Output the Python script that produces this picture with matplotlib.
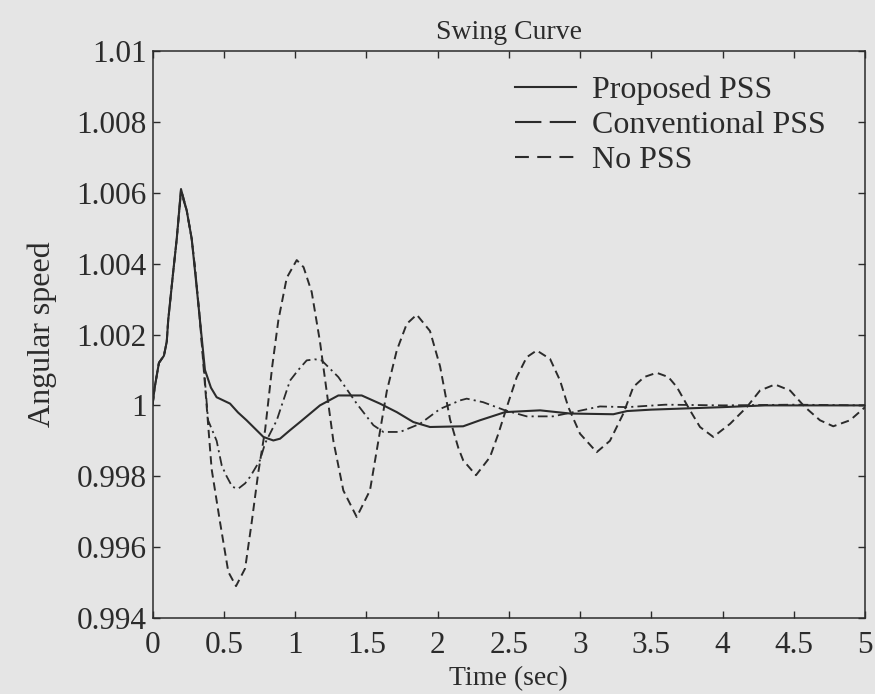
import matplotlib.pyplot as plt
from matplotlib.lines import Line2D

plt.rcParams["font.family"] = ["Liberation Serif", "DejaVu Serif"]
plt.rcParams["lines.scale_dashes"] = False

# Proposed PSS (solid)
t_prop = [0, 0.015, 0.045, 0.08, 0.1, 0.11, 0.146, 0.17, 0.2, 0.24, 0.275, 0.298,
          0.333, 0.368, 0.41, 0.45, 0.544, 0.6, 0.66, 0.778, 0.848, 0.895, 0.965,
          1.035, 1.175, 1.304, 1.468, 1.596, 1.714, 1.83, 1.947, 2.18, 2.298, 2.474,
          2.72, 2.93, 3.234, 3.33, 3.5, 4.0, 4.3, 5.0]
w_prop = [1.0, 1.0005, 1.0012, 1.0014, 1.0018, 1.0024, 1.0038, 1.0047, 1.0061, 1.0055,
          1.0047, 1.0038, 1.0024, 1.0010, 1.0005, 1.00023, 1.00005, 0.9998, 0.99958,
          0.99911, 0.99901, 0.99906, 0.9993, 0.99953, 1.0, 1.00028, 1.00028, 1.00005,
          0.99981, 0.99953, 0.99939, 0.99941, 0.99958, 0.99981, 0.99986, 0.99977,
          0.99975, 0.99984, 0.99988, 0.99995, 1.0, 1.0]

# Conventional PSS (dash-dot)
t_conv = [0, 0.015, 0.045, 0.08, 0.1, 0.11, 0.146, 0.17, 0.2, 0.24, 0.275, 0.3,
          0.333, 0.36, 0.39, 0.45, 0.486, 0.52, 0.56, 0.602, 0.65, 0.684, 0.754, 0.79,
          0.872, 0.895, 0.965, 1.023, 1.082, 1.14, 1.187, 1.304, 1.433, 1.55, 1.62,
          1.737, 1.877, 2.018, 2.158, 2.205, 2.32, 2.474, 2.626, 2.81, 2.93, 3.14,
          3.33, 3.6, 4.0, 4.5, 5.0]
w_conv = [1.0, 1.0005, 1.0012, 1.0014, 1.0018, 1.0024, 1.0038, 1.0047, 1.0060, 1.0055,
          1.0047, 1.0038, 1.0024, 1.0011, 0.99958, 0.9990, 0.9983, 0.9980, 0.9977,
          0.99765, 0.9978, 0.99798, 0.99845, 0.99893, 0.99958, 0.99986, 1.0007, 1.0010,
          1.00127, 1.0013, 1.00127, 1.0008, 1.00005, 0.99944, 0.99925, 0.99925,
          0.99948, 0.9999, 1.00014, 1.00019, 1.00009, 0.99986, 0.99969, 0.99969,
          0.99979, 0.99997, 0.99995, 1.00002, 1.0, 1.00002, 1.0]

# No PSS (dashed)
t_none = [0, 0.015, 0.045, 0.08, 0.1, 0.11, 0.146, 0.17, 0.2, 0.24, 0.275, 0.3,
          0.333, 0.36, 0.415, 0.474, 0.532, 0.586, 0.65, 0.696, 0.742, 0.79, 0.84,
          0.883, 0.942, 1.012, 1.06, 1.117, 1.175, 1.222, 1.269, 1.339, 1.433, 1.526,
          1.585, 1.644, 1.714, 1.784, 1.854, 1.947, 2.018, 2.088, 2.146, 2.18, 2.27,
          2.368, 2.427, 2.486, 2.556, 2.626, 2.696, 2.79, 2.86, 2.918, 3.0, 3.117,
          3.21, 3.304, 3.374, 3.45, 3.538, 3.62, 3.679, 3.772, 3.842, 3.935, 4.053,
          4.17, 4.263, 4.368, 4.474, 4.579, 4.684, 4.777, 4.895, 5.0]
w_none = [1.0, 1.0005, 1.0012, 1.0014, 1.0018, 1.0024, 1.0038, 1.0047, 1.0061, 1.0055,
          1.0047, 1.0038, 1.0024, 1.0010, 0.9982, 0.9967, 0.9953, 0.9949, 0.9954,
          0.9967, 0.9981, 0.9993, 1.0011, 1.0024, 1.0036, 1.0041, 1.0039, 1.0032,
          1.0018, 1.0004, 0.9990, 0.9976, 0.99685, 0.9976, 0.9990, 1.0004, 1.00155,
          1.0023, 1.00256, 1.0021, 1.0011, 0.9996, 0.9988, 0.99845, 0.99803, 0.99854,
          0.9992, 0.99995, 1.0008, 1.00136, 1.00155, 1.00131, 1.0007, 0.99995, 0.9992,
          0.99868, 0.9990, 0.99977, 1.00052, 1.0008, 1.00092, 1.0008, 1.00052, 0.99986,
          0.99939, 0.99911, 0.99948, 0.99995, 1.00042, 1.00059, 1.00042, 0.99995,
          0.99958, 0.99941, 0.99958, 0.99995]

x_ticks = [0, 0.5, 1, 1.5, 2, 2.5, 3, 3.5, 4, 4.5, 5]
x_labels = ["0", "0.5", "1", "1.5", "2", "2.5", "3", "3.5", "4", "4.5", "5"]
y_ticks = [0.994, 0.996, 0.998, 1.0, 1.002, 1.004, 1.006, 1.008, 1.01]
y_labels = ["0.994", "0.996", "0.998", "1", "1.002", "1.004", "1.006", "1.008", "1.01"]

bg = "#e5e5e5"
ink = "#2b2b2b"

fig = plt.figure(figsize=(8.75, 6.94), dpi=100, facecolor=bg)
ax = fig.add_axes([0.1743, 0.1095, 0.8143, 0.817], facecolor=bg)

ax.plot(t_prop, w_prop, color=ink, lw=1.5, linestyle="-")
ax.plot(t_conv, w_conv, color=ink, lw=1.3, linestyle=(0, (7, 3, 1.5, 3)))
ax.plot(t_none, w_none, color=ink, lw=1.4, linestyle=(0, (6, 3.5)))

ax.set_xlim(0, 5)
ax.set_ylim(0.994, 1.01)
ax.set_xticks(x_ticks)
ax.set_xticklabels(x_labels)
ax.set_yticks(y_ticks)
ax.set_yticklabels(y_labels)
ax.tick_params(direction="in", top=True, right=True, length=5, width=1,
               colors=ink, labelsize=22.5)
ax.tick_params(axis="x", pad=9)
ax.tick_params(axis="y", pad=4)
for s in ax.spines.values():
    s.set_color(ink)
    s.set_linewidth(1.1)

ax.set_title("Swing Curve", fontsize=20, color=ink, pad=9)
ax.set_xlabel("Time (sec)", fontsize=20, color=ink, labelpad=5)
ax.set_ylabel("Angular speed", fontsize=23, color=ink, labelpad=14)

handles = [
    Line2D([], [], color=ink, lw=1.5, linestyle="-"),
    Line2D([], [], color=ink, lw=1.5, linestyle=(0, (19, 6))),
    Line2D([], [], color=ink, lw=1.5, linestyle=(0, (10, 6))),
]
ax.legend(handles, ["Proposed PSS", "Conventional PSS", "No PSS"],
          loc="upper left", bbox_to_anchor=(0.589, 0.891),
          bbox_transform=fig.transFigure, frameon=False, fontsize=23,
          handlelength=1.9, handletextpad=0.5, labelspacing=0.17,
          borderpad=0, borderaxespad=0, labelcolor=ink)

fig.savefig("out.png", dpi=100, facecolor=bg)
